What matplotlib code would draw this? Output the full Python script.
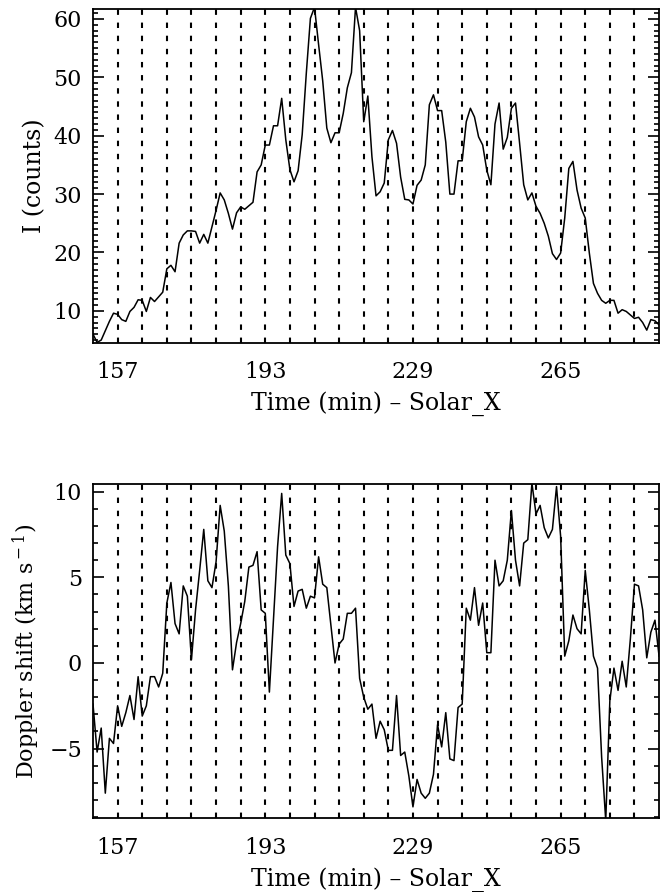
import numpy as np
import matplotlib
matplotlib.use("Agg")
import matplotlib.pyplot as plt
from matplotlib.ticker import MultipleLocator, FixedLocator

plt.rcParams['font.family'] = ['DejaVu Serif']
plt.rcParams['mathtext.fontset'] = 'dejavuserif'

# one-minute cadence, t = 151 ... 289 min
t0 = 151
intensity = [6.0, 4.6, 5.0, 6.6, 8.2, 9.6, 9.4, 8.5, 8.2, 9.9,
             10.6, 11.9, 11.8, 9.9, 12.3, 11.6, 12.4, 13.2, 17.2, 17.8,
             16.7, 21.6, 23.0, 23.7, 23.7, 23.6, 21.6, 23.1, 21.6, 24.4,
             27.2, 30.2, 29.0, 26.7, 24.0, 26.8, 27.8, 27.4, 28.0, 28.6,
             33.8, 35.0, 38.4, 38.4, 41.7, 41.7, 46.4, 39.3, 34.2, 32.1,
             34.0, 40.2, 50.7, 60.1, 62.0, 55.6, 49.4, 41.3, 38.8, 40.5,
             40.5, 43.8, 48.2, 50.8, 62.0, 58.0, 42.4, 46.8, 36.4, 29.7,
             30.4, 31.9, 39.3, 40.9, 38.7, 32.9, 29.1, 29.0, 28.3, 31.5,
             32.4, 35.0, 45.3, 47.0, 44.3, 44.3, 38.9, 30.0, 30.0, 35.7,
             35.7, 42.4, 44.7, 43.2, 39.8, 38.4, 34.1, 31.6, 42.0, 45.6,
             37.7, 39.7, 44.7, 45.6, 38.7, 31.6, 29.0, 30.2, 27.9, 26.7,
             25.0, 22.8, 19.8, 18.8, 19.9, 25.9, 34.4, 35.6, 30.7, 27.6,
             25.9, 19.9, 14.7, 13.0, 11.8, 11.3, 11.8, 11.8, 9.6, 10.2,
             9.9, 9.3, 8.7, 8.9, 8.0, 6.7, 8.5, 8.3, 7.6]

doppler = [-2.4, -5.2, -3.8, -7.6, -4.4, -4.7, -2.5, -3.7, -2.9, -1.9,
           -3.3, -0.8, -3.1, -2.5, -0.8, -0.8, -1.4, -0.6, 3.5, 4.7,
           2.3, 1.7, 4.5, 3.9, 0.2, 3.1, 5.4, 7.8, 4.8, 4.4,
           5.9, 9.2, 7.7, 4.5, -0.4, 1.2, 2.3, 3.6, 5.6, 5.7,
           6.5, 3.1, 2.9, -1.7, 2.5, 6.8, 9.9, 6.3, 5.8, 3.3,
           4.2, 4.3, 3.2, 3.9, 3.8, 6.2, 4.6, 4.4, 2.2, 0.0,
           1.1, 1.4, 2.9, 2.9, 3.2, -0.9, -2.0, -2.7, -2.4, -4.4,
           -3.4, -3.9, -5.1, -5.1, -1.9, -5.4, -5.2, -6.6, -8.4, -6.8,
           -7.6, -7.9, -7.6, -6.5, -3.6, -4.9, -2.9, -5.6, -5.7, -2.6,
           -2.4, 3.2, 2.5, 4.4, 2.2, 3.5, 0.6, 0.6, 6.0, 4.5,
           4.8, 6.0, 8.9, 6.0, 4.5, 7.0, 7.2, 10.5, 8.7, 9.2,
           7.9, 7.3, 7.8, 10.3, 7.4, 0.4, 1.3, 2.8, 2.0, 1.7,
           5.4, 3.1, 0.4, -0.3, -5.5, -9.2, -2.2, -0.3, -1.6, 0.1,
           -1.4, 1.4, 4.6, 4.5, 3.1, 0.3, 1.8, 2.5, 0.4]

time = t0 + np.arange(len(intensity))
xticks = [157, 193, 229, 265]
marks = np.arange(157, 289, 6)   # dashed reference lines every 6 min

fig = plt.figure(figsize=(6.61, 8.92), dpi=100)
ax1 = fig.add_axes([0.1407, 0.6155, 0.857, 0.3744])
ax2 = fig.add_axes([0.1407, 0.0824, 0.857, 0.375])


def style(ax, ylim, major):
    ax.set_xlim(151, 289.1)
    ax.set_ylim(*ylim)
    for m in marks:
        ax.axvline(m, color='black', lw=1.5, ls=(0, (2.6, 3.7)), zorder=1)
    ax.xaxis.set_major_locator(FixedLocator(xticks))
    ax.set_xticklabels([str(v) for v in xticks])
    ax.yaxis.set_major_locator(MultipleLocator(major))
    ax.yaxis.set_minor_locator(MultipleLocator(1))
    ax.tick_params(axis='x', which='both', length=0, pad=13, labelsize=16)
    ax.tick_params(axis='y', which='both', direction='in', left=True,
                   right=True, labelsize=16, pad=8, width=1.2)
    ax.tick_params(axis='y', which='major', length=8)
    ax.tick_params(axis='y', which='minor', length=3.6)
    for s in ax.spines.values():
        s.set_linewidth(1.3)
    ax.set_xlabel('Time (min) – Solar_X', fontsize=17, labelpad=6)


ax1.plot(time, intensity, color='black', lw=1.1, zorder=2)
style(ax1, (4.5, 61.7), 10)
ax1.set_ylabel('I (counts)', fontsize=17, labelpad=5)

ax2.plot(time, doppler, color='black', lw=1.1, zorder=2)
style(ax2, (-9.08, 10.45), 5)
ax2.set_ylabel(r'Doppler shift (km s$^{\rm -1}$)', fontsize=16, labelpad=5)

fig.savefig('out.png', dpi=100)
